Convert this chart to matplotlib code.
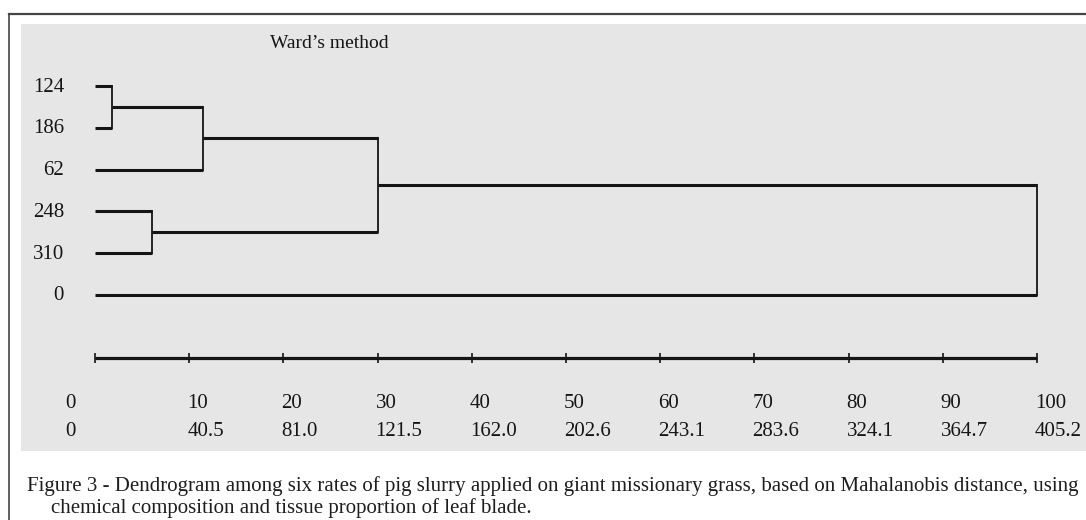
import matplotlib
matplotlib.use("Agg")
import matplotlib.pyplot as plt
from matplotlib.patches import Rectangle
from matplotlib.lines import Line2D
from matplotlib import transforms

# ---------------- data ----------------
leaves = ['124', '186', '62', '248', '310', '0']
merge_left = [0, 3, 6, 8, 9]          # scipy-style cluster indices
merge_right = [1, 4, 2, 7, 5]
merge_height = [1.8, 6.0, 11.5, 30.0, 100.0]   # rescaled distance

scale_ticks = [0, 10, 20, 30, 40, 50, 60, 70, 80, 90, 100]
scale_labels = ['0', '10', '20', '30', '40', '50', '60', '70', '80', '90', '100']
dist_labels = ['0', '40.5', '81.0', '121.5', '162.0', '202.6', '243.1',
               '283.6', '324.1', '364.7', '405.2']

title = "Ward\u2019s method"
caption1 = ("Figure 3 - Dendrogram among six rates of pig slurry applied on giant "
            "missionary grass, based on Mahalanobis distance, using")
caption2 = "chemical composition and tissue proportion of leaf blade."

# ---------------- layout ----------------
W, H = 1086, 520
X0_PX, PX_PER_UNIT = 95.0, 9.42      # x=0 -> 95 px, 10 units = 94.2 px
Y0_PX, PX_PER_LEAF = 86.0, 41.8      # first leaf at 86 px

def py(px):
    return (px - Y0_PX) / PX_PER_LEAF

def px_x(px):
    return (px - X0_PX) / PX_PER_UNIT

plt.rcParams['font.family'] = ['Liberation Serif', 'DejaVu Serif']
ink = '#151515'

fig = plt.figure(figsize=(W / 100, H / 100), dpi=100)
fig.patch.set_facecolor('white')

# grey panel and outer frame
fig.patches.append(Rectangle((21 / W, 1 - 451 / H), (W - 21) / W, (451 - 24) / H,
                             transform=fig.transFigure, facecolor='#e6e6e6',
                             edgecolor='none', zorder=-5))
fig.lines.append(Line2D([9 / W, 9 / W], [1 - 14 / H, 0], transform=fig.transFigure,
                        color='#444444', lw=1.2, zorder=-4))
fig.lines.append(Line2D([9 / W, 1], [1 - 14 / H, 1 - 14 / H], transform=fig.transFigure,
                        color='#444444', lw=1.6, zorder=-4))

ax = fig.add_axes([0, 0, 1, 1])
ax.set_zorder(2)
ax.patch.set_visible(False)
ax.axis('off')
ax.set_xlim(px_x(0), px_x(W))
ax.set_ylim(py(H), py(0))

# ---------------- dendrogram ----------------
n = len(leaves)
ypos = {i: float(i) for i in range(n)}
xpos = {i: 0.0 for i in range(n)}
hlw, vlw = 2.2, 1.3
for k, (a, b, h) in enumerate(zip(merge_left, merge_right, merge_height)):
    for c in (a, b):
        ax.plot([xpos[c], h], [ypos[c], ypos[c]], color=ink, lw=hlw,
                solid_capstyle='butt')
    ax.plot([h, h], [ypos[a], ypos[b]], color=ink, lw=vlw, solid_capstyle='projecting')
    new = n + k
    ypos[new] = (ypos[a] + ypos[b]) / 2
    xpos[new] = h

# leaf labels
lab_off = transforms.offset_copy(ax.transData, fig=fig, x=-31, y=-1, units='dots')
for i, name in enumerate(leaves):
    ax.text(0, i, name, transform=lab_off, ha='right', va='center',
            fontsize=15, color=ink)

ax.text(px_x(270), py(43), title, ha='left', va='center', fontsize=14, color=ink)

# ---------------- scale axis ----------------
axis_y = py(358)
ax.plot([scale_ticks[0], scale_ticks[-1]], [axis_y, axis_y], color=ink, lw=2.3,
        solid_capstyle='butt')
ax.plot(scale_ticks, [axis_y] * len(scale_ticks), linestyle='none', marker='|',
        markersize=7, markeredgewidth=1.2, color=ink)

for t, l1, l2 in zip(scale_ticks, scale_labels, dist_labels):
    dx = -30 if t == scale_ticks[0] else -2
    tr = transforms.offset_copy(ax.transData, fig=fig, x=dx, y=0, units='dots')
    ax.text(t, py(403), l1, transform=tr, ha='left', va='center', fontsize=15, color=ink)
    ax.text(t, py(431), l2, transform=tr, ha='left', va='center', fontsize=15, color=ink)

# ---------------- caption ----------------
fig.text(27 / W, 1 - 491 / H, caption1, ha='left', va='baseline', fontsize=15,
         color='#1e1e1e')
fig.text(51 / W, 1 - 513 / H, caption2, ha='left', va='baseline', fontsize=15,
         color='#1e1e1e')

fig.savefig('out.png', dpi=100, facecolor='white')
